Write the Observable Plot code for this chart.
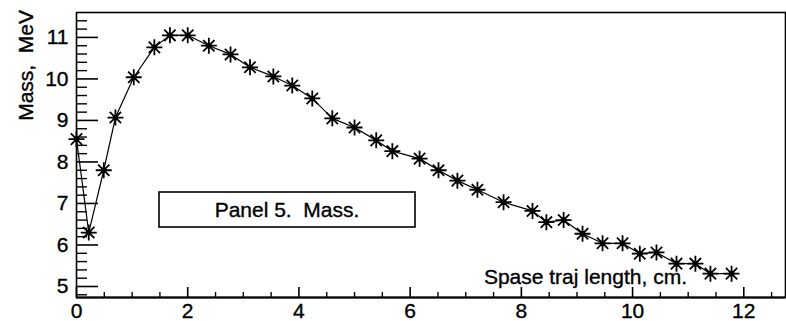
<!DOCTYPE html>
<html>
<head>
<meta charset="utf-8">
<script src="https://cdn.jsdelivr.net/npm/d3@7"></script>
<script src="https://cdn.jsdelivr.net/npm/@observablehq/plot@0.6"></script>
<style>
  html, body { margin: 0; padding: 0; background: #fff; }
  #chart svg { display: block; }
  #chart svg text { stroke: #000; stroke-width: 0.35px; }
</style>
</head>
<body>
<div id="chart"></div>
<script>
// Data
const trajLength = [0, 0.22, 0.49, 0.70, 1.03, 1.40, 1.68, 2.00, 2.38, 2.77, 3.12, 3.54, 3.88, 4.24, 4.60, 5.00, 5.39, 5.68,
  6.17, 6.51, 6.85, 7.21, 7.68, 8.20, 8.45, 8.76, 9.10, 9.46, 9.82, 10.13, 10.43, 10.79, 11.13, 11.40, 11.78];
const mass = [8.55, 6.30, 7.80, 9.07, 10.04, 10.76, 11.05, 11.05, 10.80, 10.59, 10.28, 10.06, 9.84, 9.53, 9.05, 8.83, 8.52, 8.26,
  8.08, 7.80, 7.55, 7.33, 7.03, 6.82, 6.55, 6.60, 6.27, 6.04, 6.04, 5.79, 5.82, 5.55, 5.55, 5.31, 5.31];
const xMajorTicks = [0, 2, 4, 6, 8, 10, 12];
const xMinorTicks = [0.5, 1, 1.5, 2.5, 3, 3.5, 4.5, 5, 5.5, 6.5, 7, 7.5, 8.5, 9, 9.5, 10.5, 11, 11.5, 12.5];
const yMajorTicks = [5, 6, 7, 8, 9, 10, 11];
const yMinorTicks = [4.8, 5.2, 5.4, 5.6, 5.8, 6.2, 6.4, 6.6, 6.8, 7.2, 7.4, 7.6, 7.8, 8.2, 8.4, 8.6, 8.8,
  9.2, 9.4, 9.6, 9.8, 10.2, 10.4, 10.6, 10.8, 11.2, 11.4];
const xTitle = "Spase traj length, cm.";
const yTitle = "Mass,  MeV";
const panelLabel = "Panel 5.  Mass.";

const data = trajLength.map((x, i) => ({x, y: mass[i]}));

// 8-armed asterisk like ROOT marker 3
const star = {
  draw(context, size) {
    const r = Math.sqrt(size / Math.PI);
    const d = r * Math.SQRT1_2;
    context.moveTo(-r, 0); context.lineTo(r, 0);
    context.moveTo(0, -r); context.lineTo(0, r);
    context.moveTo(-d, -d); context.lineTo(d, d);
    context.moveTo(-d, d); context.lineTo(d, -d);
  }
};

const FONT = 21;
const chart = Plot.plot({
  width: 786,
  height: 321,
  marginLeft: 76,
  marginRight: 1,
  marginTop: 12,
  marginBottom: 24,
  style: {fontFamily: "'Liberation Sans', Arial, sans-serif", fontSize: FONT + "px", color: "#000", background: "#fff"},
  x: {domain: [0, 12.75]},
  y: {domain: [4.735, 11.6]},
  marks: [
    Plot.frame({stroke: "#000", strokeWidth: 1.6}),
    // inward ticks: draw outward and shift them into the frame
    Plot.axisX(xMinorTicks, {tickSize: 5, dy: -5, text: null, label: null, strokeWidth: 1.4}),
    Plot.axisX(xMajorTicks, {tickSize: 10, dy: -10, text: null, label: null, strokeWidth: 1.6}),
    Plot.axisX(xMajorTicks, {tickSize: 0, tickPadding: 6, fontSize: FONT, label: null}),
    Plot.axisY(yMinorTicks, {tickSize: 11, dx: 11, text: null, label: null, strokeWidth: 1.4}),
    Plot.axisY(yMajorTicks, {tickSize: 22, dx: 22, text: null, label: null, strokeWidth: 1.6}),
    Plot.axisY(yMajorTicks, {tickSize: 0, tickPadding: 8, fontSize: FONT, label: null}),
    Plot.ruleY([4.735], {stroke: "#000", strokeWidth: 2.2}),
    Plot.line(data, {x: "x", y: "y", stroke: "#000", strokeWidth: 1.2}),
    Plot.dot(data, {x: "x", y: "y", symbol: star, r: 8, stroke: "#000", strokeWidth: 1.8}),
    Plot.dot(data, {x: "x", y: "y", r: 2.8, fill: "#000"})
  ]
});

// Titles and the panel label box as real SVG text
const svg = d3.select(chart);
svg.append("text")
  .attr("transform", "translate(33,10) rotate(-90)")
  .attr("text-anchor", "end")
  .attr("font-size", FONT)
  .attr("fill", "#000")
  .text(yTitle);
svg.append("text")
  .attr("x", 687).attr("y", 284)
  .attr("text-anchor", "end")
  .attr("font-size", FONT)
  .attr("fill", "#000")
  .text(xTitle);
const g = svg.append("g");
g.append("rect")
  .attr("x", 159).attr("y", 192).attr("width", 256).attr("height", 35)
  .attr("fill", "#fff").attr("stroke", "#000").attr("stroke-width", 1.6);
g.append("text")
  .attr("x", 287).attr("y", 217)
  .attr("text-anchor", "middle")
  .attr("font-size", FONT)
  .attr("fill", "#000")
  .text(panelLabel);

document.getElementById("chart").appendChild(chart);
</script>
</body>
</html>
